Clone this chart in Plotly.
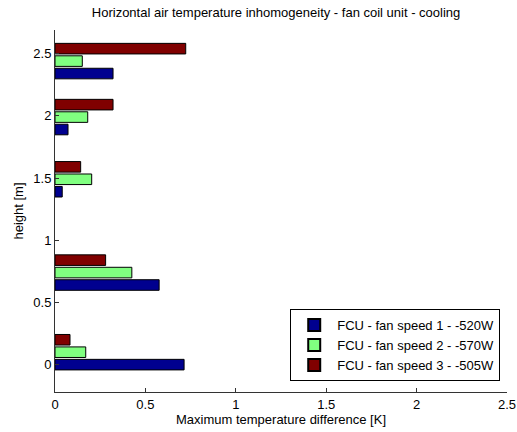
import plotly.graph_objects as go

heights = [0.1, 0.74, 1.49, 1.99, 2.44]
speed1 = [0.714, 0.576, 0.04, 0.072, 0.321]
speed2 = [0.17, 0.425, 0.203, 0.181, 0.151]
speed3 = [0.083, 0.28, 0.142, 0.321, 0.723]
names = ["FCU - fan speed 1 - -520W", "FCU - fan speed 2 - -570W", "FCU - fan speed 3 - -505W"]
colors = ["#00008F", "#80FF80", "#800000"]

bw = 0.085
offsets = [-0.1 - bw / 2, -bw / 2, 0.1 - bw / 2]

fig = go.Figure()
for vals, name, col, off in zip([speed1, speed2, speed3], names, colors, offsets):
    fig.add_trace(go.Bar(
        x=vals, y=heights, orientation="h", name=name,
        marker=dict(color=col, line=dict(color="black", width=1)),
        width=bw, offset=off,
    ))

ff = "Liberation Sans, Arial, sans-serif"
font = dict(family=ff, size=13, color="black")
fig.update_layout(
    width=517, height=432,
    margin=dict(l=55, r=10, t=30, b=40),
    paper_bgcolor="white", plot_bgcolor="white",
    font=font,
    barmode="overlay",
    title=dict(text="Horizontal air temperature inhomogeneity - fan coil unit - cooling",
               x=0.534, xanchor="center", y=1 - 12 / 432, yanchor="middle",
               font=dict(family=ff, size=13, color="black")),
    xaxis=dict(range=[0, 2.5], tickvals=[0, 0.5, 1, 1.5, 2, 2.5],
               ticktext=["0", "0.5", "1", "1.5", "2", "2.5"],
               ticks="inside", ticklen=4, tickcolor="#333",
               tickfont=dict(family=ff, size=13, color="black"),
               showline=True, linecolor="#333", linewidth=1,
               showgrid=False, zeroline=False, automargin=False,
               title=dict(text="Maximum temperature difference [K]", standoff=4,
                          font=dict(family=ff, size=13, color="black"))),
    yaxis=dict(range=[-0.22, 2.69], tickvals=[0, 0.5, 1, 1.5, 2, 2.5],
               ticktext=["0", "0.5", "1", "1.5", "2", "2.5"],
               ticks="inside", ticklen=4, tickcolor="#333",
               tickfont=dict(family=ff, size=13, color="black"),
               showline=True, linecolor="#333", linewidth=1,
               showgrid=False, zeroline=False, automargin=False,
               title=dict(text="height [m]", standoff=6,
                          font=dict(family=ff, size=13, color="black"))),
    legend=dict(x=0.985, xanchor="right", y=0.03, yanchor="bottom",
                bgcolor="white", bordercolor="black", borderwidth=1,
                font=dict(family=ff, size=13, color="black"), traceorder="normal",
                itemsizing="constant", tracegroupgap=0, itemwidth=36),
    showlegend=True,
)

fig.write_html("out.html", config={"displayModeBar": False},
               post_script="document.body.style.margin='0';document.body.style.padding='0';")
